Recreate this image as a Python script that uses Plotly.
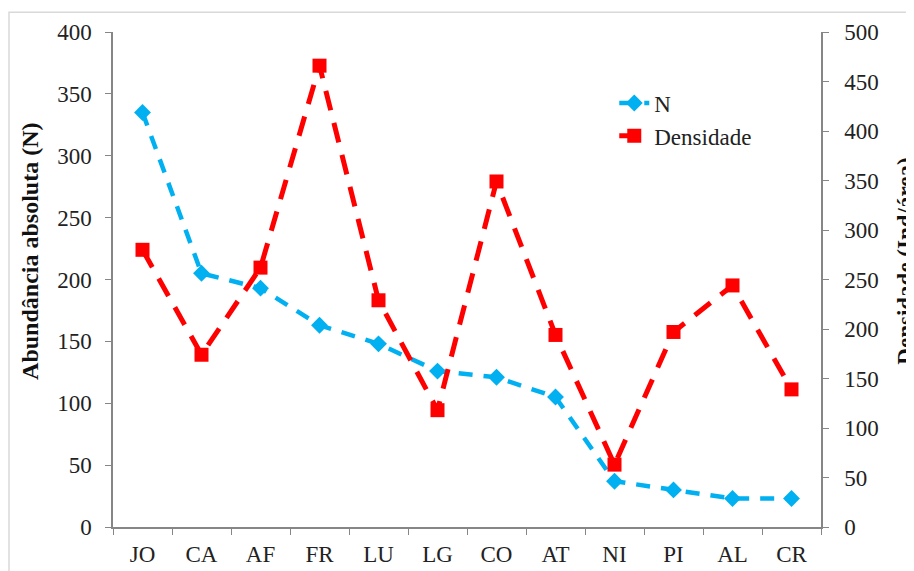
import plotly.graph_objects as go

categories = ["JO", "CA", "AF", "FR", "LU", "LG", "CO", "AT", "NI", "PI", "AL", "CR"]
abundancia_n = [335, 205, 193, 163, 148, 126, 121, 105, 37, 30, 23, 23]
densidade = [280, 174, 262, 466, 229, 118, 349, 194, 63, 197, 244, 139]

left_ticks = list(range(0, 401, 50))
right_ticks = list(range(0, 501, 50))

FONT = "Liberation Serif"
AXIS_COLOR = "#868686"
TXT = "#222222"

fig = go.Figure()
fig.add_trace(go.Scatter(
    x=categories, y=abundancia_n, name="N", mode="lines+markers",
    line=dict(color="#00B0F0", width=4.5, dash="14px,11px"),
    marker=dict(symbol="diamond", size=13, color="#00B0F0"),
    yaxis="y",
))
fig.add_trace(go.Scatter(
    x=categories, y=densidade, name="Densidade", mode="lines+markers",
    line=dict(color="#FF0000", width=5, dash="20px,13px"),
    marker=dict(symbol="square", size=14, color="#FF0000"),
    yaxis="y2",
))

fig.update_layout(
    width=914, height=571,
    margin=dict(l=105, r=101, t=20, b=49),
    paper_bgcolor="white", plot_bgcolor="white",
    font=dict(family=FONT, size=23, color=TXT),
    showlegend=True,
    legend=dict(x=0.708, y=0.9, xanchor="left", yanchor="top",
                bgcolor="rgba(0,0,0,0)", font=dict(size=23, family=FONT, color=TXT),
                itemwidth=30),
    xaxis=dict(
        type="category", range=[-0.5, len(categories) - 0.5], tickson="boundaries",
        showline=True, linecolor=AXIS_COLOR,
        linewidth=1.5, ticks="outside", ticklen=6, tickcolor=AXIS_COLOR,
        ticklabelstandoff=6,
        showgrid=False, zeroline=False, tickfont=dict(size=23, family=FONT, color=TXT),
    ),
    yaxis=dict(
        range=[0, 400], tickvals=left_ticks, showline=True, linecolor=AXIS_COLOR,
        linewidth=1.5, ticks="outside", ticklen=6, tickcolor=AXIS_COLOR,
        ticklabelstandoff=9,
        showgrid=False, zeroline=False, tickfont=dict(size=23, family=FONT, color=TXT),
    ),
    yaxis2=dict(
        range=[0, 500], tickvals=right_ticks, overlaying="y", side="right",
        showline=True, linecolor=AXIS_COLOR, linewidth=1.5, ticks="outside",
        ticklen=6, tickcolor=AXIS_COLOR, ticklabelstandoff=11,
        showgrid=False, zeroline=False,
        tickfont=dict(size=23, family=FONT, color=TXT),
    ),
    annotations=[
        dict(text="<b>Abundância absoluta (N)</b>", xref="paper", yref="paper",
             x=-0.117, y=0.556, xanchor="center", yanchor="middle", textangle=-90,
             showarrow=False, font=dict(size=24, family=FONT, color="#111111")),
        dict(text="<b>Densidade (Ind/área)</b>", xref="paper", yref="paper",
             x=1.12, y=0.538, xanchor="center", yanchor="middle", textangle=-90,
             showarrow=False, font=dict(size=23, family=FONT, color="#111111")),
    ],
    shapes=[
        dict(type="rect", xref="paper", yref="paper", x0=-0.1469, x1=1.2, y0=-0.2, y1=1.0398,
             line=dict(color="#D9D9D9", width=1.5), layer="below"),
    ],
)

fig.write_html("out.html")
